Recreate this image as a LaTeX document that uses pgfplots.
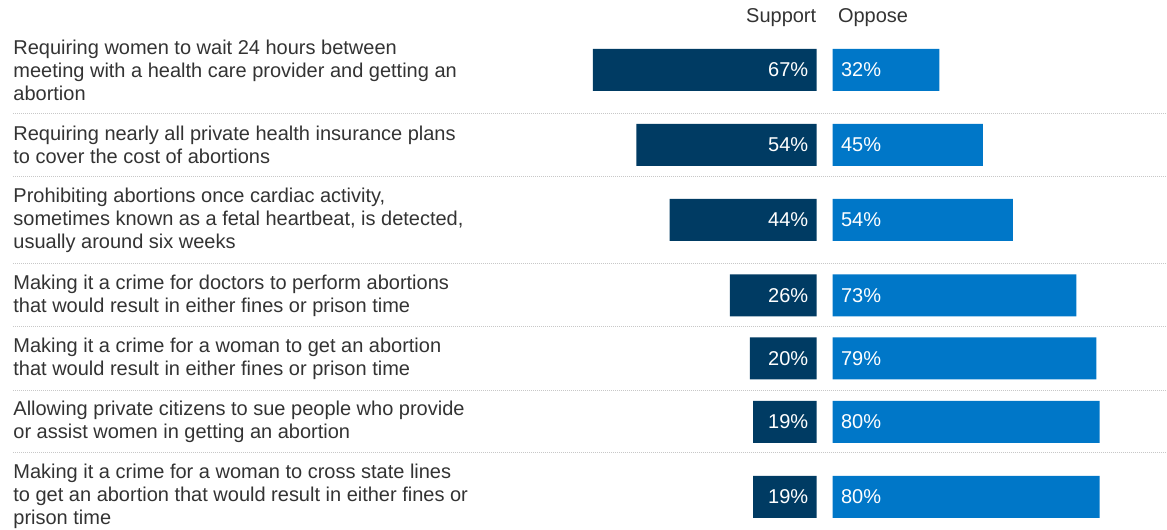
\documentclass[border=0pt]{standalone}
\usepackage{fontspec}
\setmainfont{Liberation Sans}
\usepackage{pgfplots}
\pgfplotsset{compat=1.18}
\usepackage{pgfplotstable}
\definecolor{navy}{HTML}{003B63}
\definecolor{kblue}{HTML}{0077C8}
\definecolor{txt}{HTML}{333333}
\definecolor{sep}{HTML}{C8C8C8}

% y = vertical position of the row (pixels from top), s = support %, o = oppose %
\pgfplotstableread{
y s o
70 67 32
145 54 45
220 44 54
295.5 26 73
358.5 20 79
422 19 80
497 19 80
}\data

\begin{document}
\begin{tikzpicture}[font=\fontsize{10pt}{11.5pt}\selectfont]
\pgfplotsset{base/.style={width=583.5pt,height=265pt,scale only axis,
  ymin=0,ymax=530,y dir=reverse,hide axis,clip=false,xtick=\empty,ytick=\empty}}
\begin{axis}[base, xmin=-104.8, xmax=244.6, x dir=reverse]
\path (rel axis cs:0,0) rectangle (rel axis cs:1,1);
\addplot[xbar, bar width=21pt, fill=navy, draw=none] table[x=s,y=y]{\data};
\addplot[only marks, mark=none, point meta=explicit,
  nodes near coords={\pgfmathprintnumber[assume math mode=true]{\pgfplotspointmeta}\%},
  nodes near coords align={anchor=east},
  every node near coord/.append style={text=white, inner sep=0pt}]
  table[x expr=2.4, y=y, meta=s]{\data};
\node[anchor=base east, txt, inner sep=0pt] at (axis cs:0,23) {Support};
\end{axis}
\begin{axis}[base, xmin=-249.4, xmax=100]
\pgfplotsinvokeforeach{114,177,264,327,391,453}{
  \draw[sep, line width=0.5pt, dash pattern=on 0.5pt off 0.5pt] (axis cs:-245.5,#1) -- (axis cs:100,#1);
}
\addplot[xbar, bar width=21pt, fill=kblue, draw=none] table[x=o,y=y]{\data};
\addplot[only marks, mark=none, point meta=explicit,
  nodes near coords={\pgfmathprintnumber[assume math mode=true]{\pgfplotspointmeta}\%},
  nodes near coords align={anchor=west},
  every node near coord/.append style={text=white, inner sep=0pt}]
  table[x expr=2.4, y=y, meta=o]{\data};
\node[anchor=base west, txt, inner sep=0pt] at (axis cs:1.5,23) {Oppose};
\begin{scope}[every node/.style={anchor=west, align=left, txt, inner sep=0pt}]
\node at (axis cs:-245.5,70) {Requiring women to wait 24 hours between\\meeting with a health care provider and getting an\\abortion};
\node at (axis cs:-245.5,145) {Requiring nearly all private health insurance plans\\to cover the cost of abortions};
\node at (axis cs:-245.5,220) {Prohibiting abortions once cardiac activity,\\sometimes known as a fetal heartbeat, is detected,\\usually around six weeks};
\node at (axis cs:-245.5,295.5) {Making it a crime for doctors to perform abortions\\that would result in either fines or prison time};
\node at (axis cs:-245.5,358.5) {Making it a crime for a woman to get an abortion\\that would result in either fines or prison time};
\node at (axis cs:-245.5,422) {Allowing private citizens to sue people who provide\\or assist women in getting an abortion};
\node at (axis cs:-245.5,497) {Making it a crime for a woman to cross state lines\\to get an abortion that would result in either fines or\\prison time};
\end{scope}
\end{axis}
\end{tikzpicture}
\end{document}
